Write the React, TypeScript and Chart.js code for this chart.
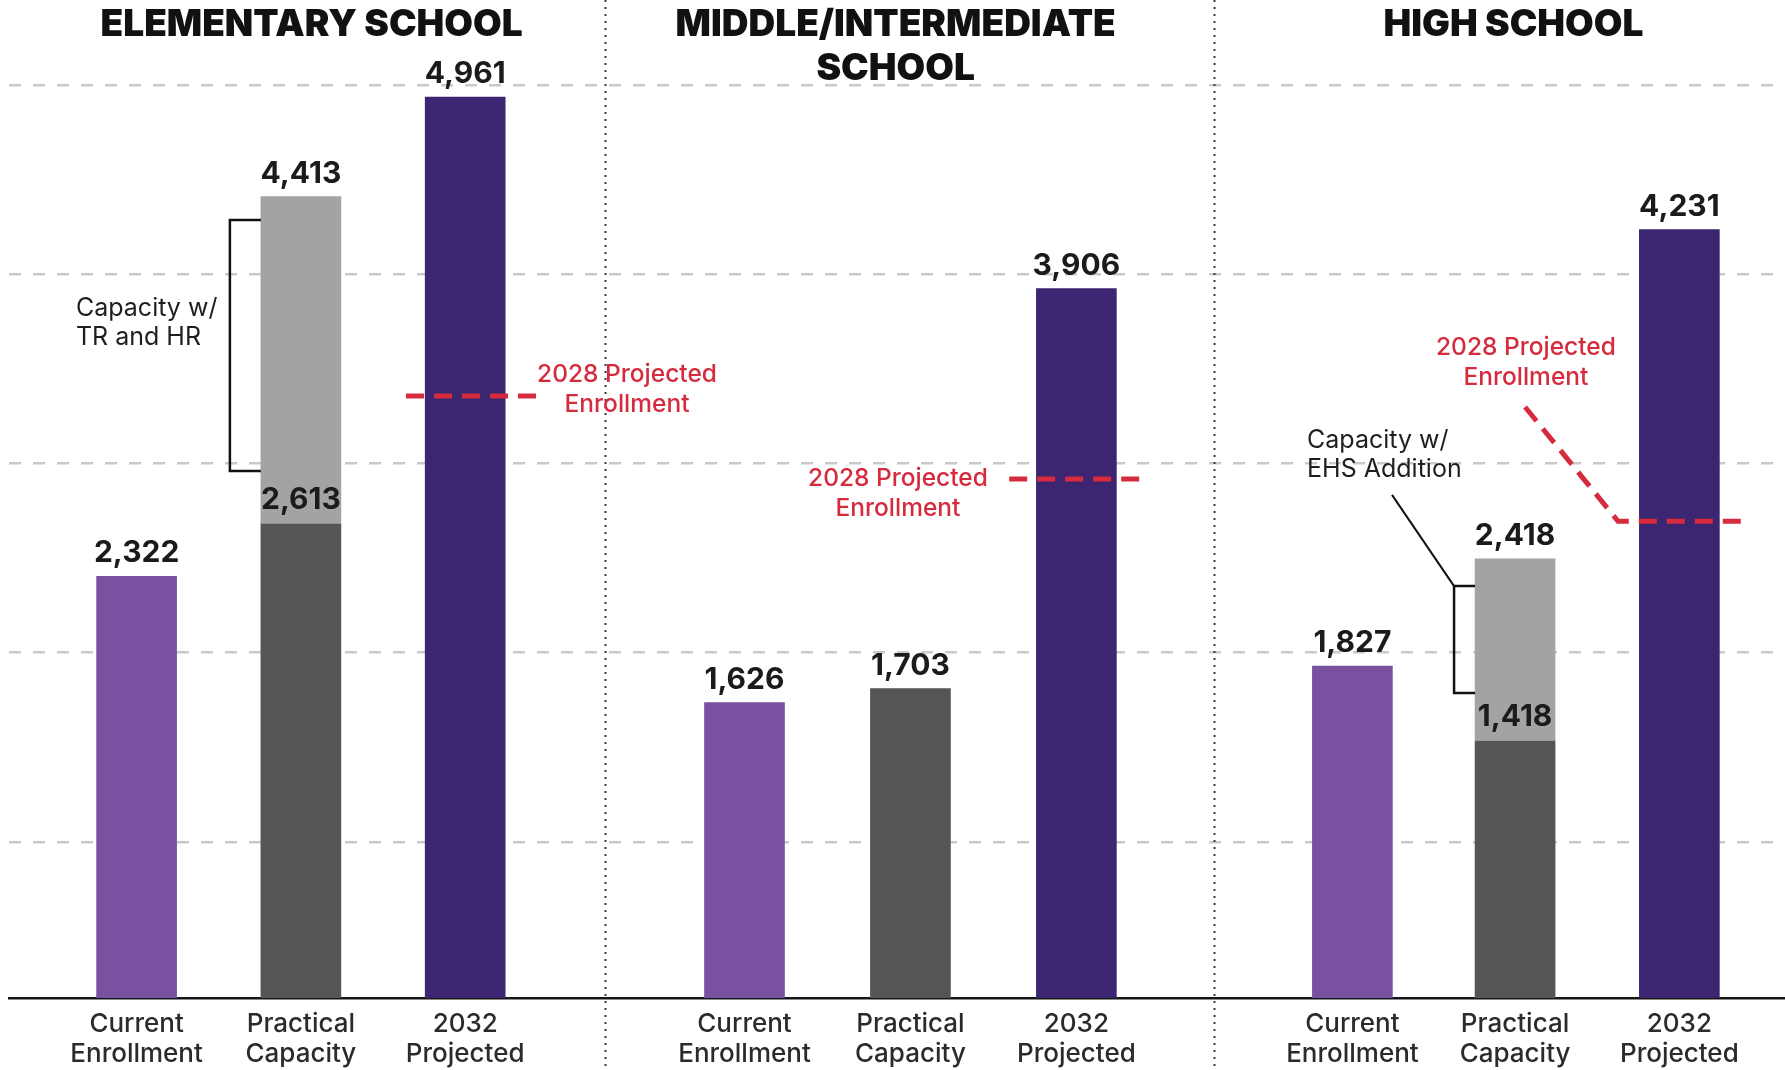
import React, { useEffect, useRef } from "react";
import { Chart, registerables } from "chart.js";

Chart.register(...registerables);

// ---------- data ----------
const schoolTitles = [["ELEMENTARY SCHOOL"], ["MIDDLE/INTERMEDIATE", "SCHOOL"], ["HIGH SCHOOL"]];
const barLabels = [["Current", "Enrollment"], ["Practical", "Capacity"], ["2032", "Projected"]];
const currentEnrollment = [2322, 1626, 1827];
const practicalCapacity = [2613, 1703, 1418];
const capacityWithAdditions: (number | null)[] = [4413, null, 2418];
const projected2032 = [4961, 3906, 4231];
const projected2028 = [3315, 2857, 2625];
const gridTicks = [857, 1903, 2944, 3984, 5025];
const bracketText = [["Capacity w/", "TR and HR"], null, ["Capacity w/", "EHS Addition"]];
const bracketRange: ([number, number] | null)[] = [[2902, 4284], null, [1679, 2268]];
const redLabel = ["2028 Projected", "Enrollment"];

// ---------- layout (x units on the linear axis) ----------
const PANEL_X = [
  [0, 1, 2],
  [3.7, 4.71, 5.72],
  [7.4, 8.39, 9.39],
];
const X_MIN = -0.7766;
const X_MAX = 10.033;
const Y_MAX = 5495;
const TITLE_X = [1.065, 4.62, 8.38];
const RED_LINE = [
  { x1: 1.64, x2: 2.443, lx: 2.985, ly: 3433, diag: null as null | [number, number] },
  { x1: 5.311, x2: 6.108, lx: 4.634, ly: 2857, diag: null as null | [number, number] },
  { x1: 9.017, x2: 9.82, lx: 8.456, ly: 3579, diag: [8.451, 3254] as [number, number] },
];
const BRACKET = [
  { gap: 31, tx: -0.369, ty: 3794, leader: null as null | [number, number] },
  null,
  { gap: 21, tx: 7.124, ty: 3072, leader: [7.641, 2770] as [number, number] },
];

const PURPLE = "#7851a0";
const DARK_GRAY = "#555557";
const LIGHT_GRAY = "#a3a3a5";
const INDIGO = "#3c2671";
const RED = "#d52b3d";
const FONT = "Inter, 'Noto Sans', sans-serif";

const positions = PANEL_X.flat();
const mainValues = currentEnrollment.flatMap((_, i) => [currentEnrollment[i], practicalCapacity[i], projected2032[i]]);
const mainColors = currentEnrollment.flatMap(() => [PURPLE, DARK_GRAY, INDIGO]);
const tickLabels = currentEnrollment.flatMap(() => barLabels);

const overlayPlugin = {
  id: "overlay",
  afterDatasetsDraw(chart: any) {
    const { ctx, scales } = chart;
    const x = scales.x;
    const y = scales.y;
    const px = (v: number) => x.getPixelForValue(v);
    const py = (v: number) => y.getPixelForValue(v);
    const H = chart.height;

    ctx.save();
    // separators
    ctx.strokeStyle = "#3a3a3a";
    ctx.lineWidth = 2;
    ctx.setLineDash([2, 5]);
    for (let p = 0; p < PANEL_X.length - 1; p++) {
      const sx = Math.round(px((PANEL_X[p][2] + PANEL_X[p + 1][0]) / 2)) + 0.5;
      ctx.beginPath();
      ctx.moveTo(sx, 0);
      ctx.lineTo(sx, H);
      ctx.stroke();
    }
    ctx.setLineDash([]);

    // value labels
    ctx.fillStyle = "#1b1b1b";
    ctx.font = `700 30px ${FONT}`;
    ctx.textAlign = "center";
    ctx.textBaseline = "alphabetic";
    chart.data.datasets.forEach((ds: any, di: number) => {
      const meta = chart.getDatasetMeta(di);
      meta.data.forEach((el: any, i: number) => {
        const raw = ds.data[i];
        const v = Array.isArray(raw.y) ? raw.y[1] : raw.y;
        ctx.fillText(v.toLocaleString("en-US"), el.x, el.y - 14);
      });
    });

    // titles
    ctx.fillStyle = "#111";
    ctx.font = `900 37px ${FONT}`;
    ctx.textBaseline = "middle";
    schoolTitles.forEach((lines, p) => {
      lines.forEach((t, li) => ctx.fillText(t, px(TITLE_X[p]), 25 + li * 44));
    });

    // red projected lines
    ctx.strokeStyle = RED;
    ctx.lineWidth = 5;
    ctx.setLineDash([18, 10]);
    RED_LINE.forEach((r, p) => {
      const yy = py(projected2028[p]);
      ctx.beginPath();
      if (r.diag) {
        ctx.moveTo(px(r.diag[0]), py(r.diag[1]));
        ctx.lineTo(px(r.x1), yy);
      } else {
        ctx.moveTo(px(r.x1), yy);
      }
      ctx.lineTo(px(r.x2), yy);
      ctx.stroke();
    });
    ctx.setLineDash([]);
    ctx.fillStyle = RED;
    ctx.font = `500 24.5px ${FONT}`;
    RED_LINE.forEach((r) => {
      redLabel.forEach((t, li) => ctx.fillText(t, px(r.lx), py(r.ly) + li * 30));
    });

    // brackets
    ctx.strokeStyle = "#111";
    ctx.lineWidth = 2.5;
    ctx.lineJoin = "miter";
    BRACKET.forEach((b, p) => {
      const range = bracketRange[p];
      const txt = bracketText[p];
      if (!b || !range || !txt) return;
      const barLeft = px(PANEL_X[p][1]) - 40;
      const vx = barLeft - b.gap;
      const yTop = py(range[1]);
      const yBot = py(range[0]);
      ctx.beginPath();
      ctx.moveTo(barLeft, yTop);
      ctx.lineTo(vx, yTop);
      ctx.lineTo(vx, yBot);
      ctx.lineTo(barLeft, yBot);
      ctx.stroke();
      if (b.leader) {
        ctx.lineWidth = 2;
        ctx.beginPath();
        ctx.moveTo(px(b.leader[0]), py(b.leader[1]));
        ctx.lineTo(vx, yTop);
        ctx.stroke();
        ctx.lineWidth = 2.5;
      }
      ctx.fillStyle = "#1e1e1e";
      ctx.font = `400 25px ${FONT}`;
      ctx.textAlign = "left";
      txt.forEach((t, li) => ctx.fillText(t, px(b.tx), py(b.ty) + li * 29));
      ctx.textAlign = "center";
    });
    ctx.restore();
  },
};

export default function App() {
  const canvasRef = useRef<HTMLCanvasElement | null>(null);

  useEffect(() => {
    if (!canvasRef.current) return;
    const chart = new Chart(canvasRef.current, {
      type: "bar",
      data: {
        datasets: [
          {
            label: "Enrollment / Capacity",
            data: positions.map((p, i) => ({ x: p, y: mainValues[i] })) as any,
            backgroundColor: mainColors,
            barThickness: 80,
            grouped: false,
            order: 2,
          },
          {
            label: "Capacity with additions",
            data: PANEL_X.map((pp, i) =>
              capacityWithAdditions[i] == null ? null : { x: pp[1], y: [practicalCapacity[i], capacityWithAdditions[i]] }
            ).filter(Boolean) as any,
            backgroundColor: LIGHT_GRAY,
            barThickness: 80,
            grouped: false,
            order: 1,
          },
        ],
      },
      options: {
        animation: false,
        responsive: true,
        maintainAspectRatio: false,
        devicePixelRatio: 1,
        layout: { padding: { left: 9, right: 0, top: 0, bottom: 0 } },
        plugins: { legend: { display: false }, tooltip: { enabled: false }, title: { display: false } },
        scales: {
          x: {
            type: "linear",
            min: X_MIN,
            max: X_MAX,
            offset: false,
            grid: { display: false, offset: false },
            border: { display: true, color: "#161616", width: 2.5 },
            afterBuildTicks: (s: any) => {
              s.ticks = positions.map((v) => ({ value: v }));
            },
            afterFit: (s: any) => {
              s.height = 72;
            },
            ticks: {
              autoSkip: false,
              maxRotation: 0,
              padding: 3,
              color: "#2b2b2b",
              font: { family: FONT, size: 26, weight: 500, lineHeight: 1.15 },
              callback: (_v: any, i: number) => tickLabels[i],
            },
          },
          y: {
            min: 0,
            max: Y_MAX,
            afterBuildTicks: (s: any) => {
              s.ticks = gridTicks.map((v) => ({ value: v }));
            },
            afterFit: (s: any) => {
              s.width = 0;
            },
            ticks: { display: false },
            grid: { color: "#c9c9c9", lineWidth: 2.5, drawTicks: false },
            border: { display: false, dash: [12, 12] },
          },
        },
      },
      plugins: [overlayPlugin],
    });
    return () => chart.destroy();
  }, []);

  return (
    <div style={{ position: "absolute", left: 0, top: 0, width: 1785, height: 1070, background: "#fff" }}>
      <canvas ref={canvasRef} />
    </div>
  );
}
